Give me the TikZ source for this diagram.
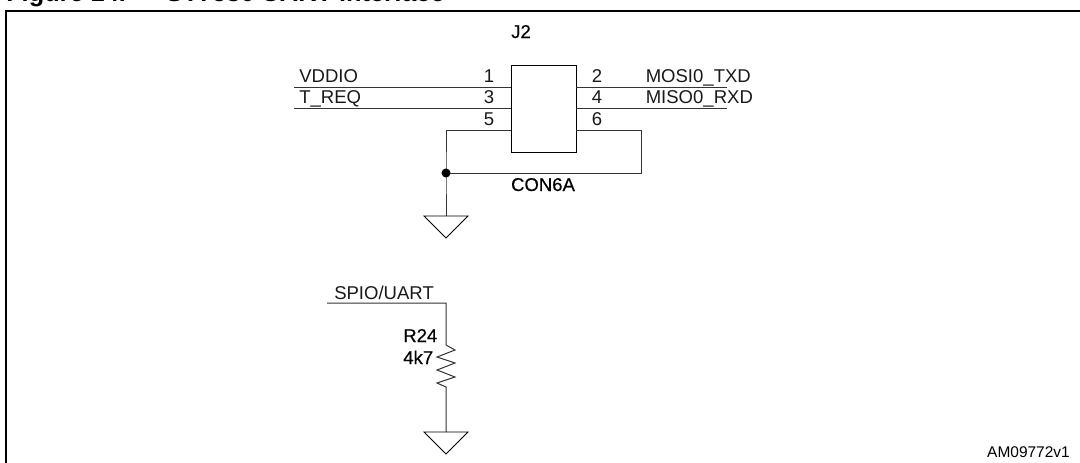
\documentclass[tikz,border=0pt]{standalone}
\usepackage{fontspec}
\setmainfont{Liberation Sans}
\newfontfamily\heavyfont[FakeBold=0.35]{Liberation Sans}
\tikzset{
  wire/.style={line width=0.75pt,color=black!80},
  lbl/.style={inner sep=0pt,font=\fontsize{13.9}{15}\selectfont,text=black!90},
  heavylbl/.style={inner sep=0pt,font=\heavyfont\fontsize{13.9}{15}\selectfont,text=black},
  gnd/.style={line width=0.6pt},
}
\newcommand{\gndsym}[1]{\draw [gnd] (#1) ++(-22,0) -- ++(44,0) -- ++(-22,22) -- cycle;}
\begin{document}
\begin{tikzpicture}[x=0.75pt,y=-0.75pt]
    \useasboundingbox (0,0) rectangle (1080,462);
    \clip (0,0) rectangle (1080,462);
    % frame, title
    \draw [line width=1.7pt] (6,480) -- (6,11) -- (1090,11);
    \node [anchor=base west,inner sep=0pt,font=\bfseries\fontsize{19}{21}\selectfont] (title) at (6,1.5) {Figure 14.\hspace{30pt}ST7580 UART interface};
    % connector J2
    \node [draw,line width=0.75pt,minimum width=48.75pt,minimum height=65pt,inner sep=0pt,anchor=north west] (J2box) at (511,65) {};
    \node [heavylbl,anchor=base west] (J2) at (511,38) {J2};
    \coordinate (a1) at (511,87);
    \coordinate (a3) at (511,108);
    \coordinate (a5) at (511,130);
    \coordinate (b2) at (576,87);
    \coordinate (b4) at (576,108);
    \coordinate (b6) at (576,130);
    \coordinate (w1) at (294,87);
    \coordinate (w3) at (294,108);
    \coordinate (e2) at (727,87);
    \coordinate (e4) at (727,108);
    \coordinate (turn6) at (641,130);
    \coordinate (turn7) at (641,173);
    \coordinate (dot) at (446,173);
    \coordinate (turn5) at (446,130);
    \coordinate (gnd1) at (446,216);
    \draw [wire] (w1) -- (a1);
    \draw [wire] (w3) -- (a3);
    \draw [wire] (b2) -- (e2);
    \draw [wire] (b4) -- (e4);
    \draw [wire] (a5) -- (turn5) -- (dot) -- (gnd1);
    \draw [wire] (b6) -- (turn6) -- (turn7) -- (dot);
    \fill (dot) circle (3.4pt);
    \gndsym{gnd1}
    \node [lbl,anchor=base west] (vddio) at (299,82) {VDDIO};
    \node [lbl,anchor=base west] (treq) at (299,103) {T\_REQ};
    \node [lbl,anchor=base] (p1) at (489,82) {1};
    \node [lbl,anchor=base] (p3) at (489,103) {3};
    \node [lbl,anchor=base] (p5) at (489,125) {5};
    \node [lbl,anchor=base] (p2) at (597,82) {2};
    \node [lbl,anchor=base] (p4) at (597,103) {4};
    \node [lbl,anchor=base] (p6) at (597,125) {6};
    \node [lbl,anchor=base west] (mosi) at (645.5,82) {MOSI0\_TXD};
    \node [lbl,anchor=base west] (miso) at (645.5,103) {MISO0\_RXD};
    \node [heavylbl,anchor=base] (con) at (543,191) {CON6A};
    % resistor
    \coordinate (s0) at (327,303);
    \coordinate (s1) at (446,303);
    \coordinate (r0) at (446,345);
    \coordinate (r1) at (446,387);
    \coordinate (gnd2) at (446,432);
    \draw [wire] (s0) -- (s1) -- (r0) -- (455,350) -- (437,357) -- (455,363) -- (437,370) -- (455,377) -- (437,383) -- (r1) -- (gnd2);
    \gndsym{gnd2}
    \node [lbl,anchor=base west] (spio) at (334,299) {SPIO/UART};
    \node [heavylbl,anchor=base west] (r24) at (403,342) {R24};
    \node [heavylbl,anchor=base west] (val) at (403,364) {4k7};
    \node [anchor=base east,inner sep=0pt,font=\fontsize{11.6}{12}\selectfont] (ref) at (1070,457) {AM09772v1};
\end{tikzpicture}
\end{document}
